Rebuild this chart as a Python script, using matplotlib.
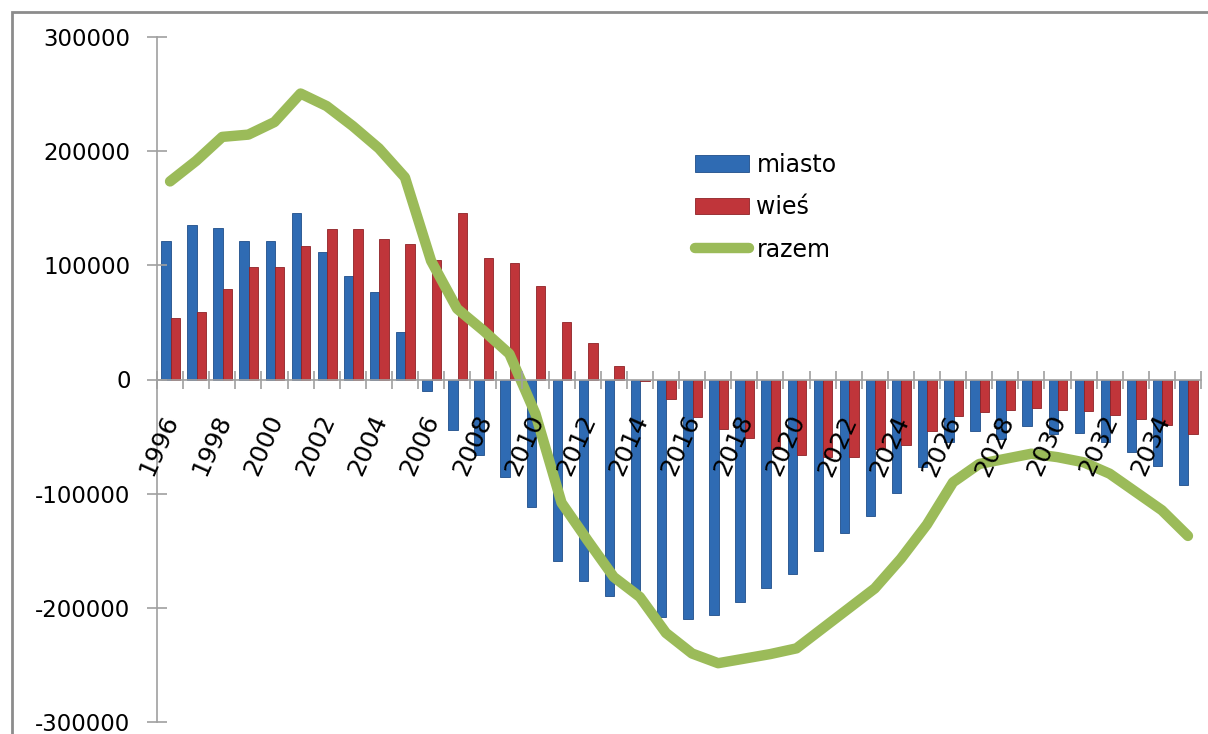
import matplotlib
matplotlib.use("Agg")
import matplotlib.pyplot as plt
import matplotlib.transforms as mtransforms
from matplotlib.patches import Rectangle
import numpy as np

# dane
lata = list(range(1996, 2036))
miasto = [121000, 135000, 133000, 121000, 121000, 145500, 112000, 90500, 77000, 42000,
          -10000, -44500, -66500, -85000, -111500, -159000, -176500, -190000, -187500, -208000,
          -209500, -206000, -195000, -182500, -170000, -150000, -134500, -119500, -99500, -76500,
          -55000, -45500, -52000, -41000, -48000, -47000, -55000, -63500, -76000, -92500]
wies = [53500, 59000, 79500, 98500, 98500, 116500, 132000, 132000, 123000, 118500,
        105000, 145500, 106000, 102000, 81500, 50000, 32000, 12000, -1500, -17000,
        -32500, -43500, -51000, -60500, -66000, -67500, -67500, -61000, -57000, -45000,
        -32000, -28500, -27000, -25000, -26500, -27500, -31000, -34500, -40000, -48000]
razem = [173500, 191500, 212500, 214500, 225500, 250500, 239500, 222000, 202500, 177000,
         104000, 62000, 43000, 22500, -30000, -108000, -141000, -173000, -190500, -222000,
         -240000, -248500, -244500, -240500, -235500, -218000, -200500, -183000, -157000, -127000,
         -90000, -74000, -69500, -65000, -68000, -72500, -82500, -98500, -114500, -137000]
etykiety = [str(r) for r in lata[::2]]

fig = plt.figure(figsize=(12.08, 7.34), dpi=100)
ax = fig.add_axes([157 / 1208, 12 / 734, 1044 / 1208, 685 / 734])

x = np.arange(len(lata))
w = 0.36
b1 = ax.bar(x - w / 2 + 0.02, miasto, w, color="#2F6BB3", edgecolor="#1F4E8A", linewidth=0.6,
            label="miasto", zorder=1)
b2 = ax.bar(x + w / 2 + 0.02, wies, w, color="#C0353A", edgecolor="#8E2226", linewidth=0.6,
            label="wieś", zorder=1)
l1, = ax.plot(x, razem, color="#9BBB59", linewidth=7.5, solid_capstyle="round",
              solid_joinstyle="round", label="razem", zorder=1.5)

ax.set_xlim(-0.5, len(lata) - 0.5)
ax.set_ylim(-300000, 300000)
ax.set_yticks(np.arange(-300000, 300001, 100000))
ax.set_yticklabels([str(v) for v in range(-300000, 300001, 100000)])

ax.spines["top"].set_visible(False)
ax.spines["right"].set_visible(False)
ax.spines["bottom"].set_position(("data", 0))
for s in ("left", "bottom"):
    ax.spines[s].set_color("#A0A0A0")
    ax.spines[s].set_linewidth(1.2)

ax.tick_params(axis="y", direction="inout", length=14, width=1.2, color="#A0A0A0",
               pad=12, labelsize=16.5)
ax.set_xticks(x[::2])
ax.set_xticklabels(etykiety, rotation=66, ha="right", va="top")
ax.set_xticks(np.arange(-0.5, len(lata), 1), minor=True)
ax.tick_params(axis="x", which="major", length=0, pad=23, labelsize=18)
ax.tick_params(axis="x", which="minor", direction="inout", length=13, width=1.2,
               color="#A0A0A0")
ax.xaxis.set_zorder(3)
off = mtransforms.ScaledTranslation(13 / 100, 0, fig.dpi_scale_trans)
for lab in ax.get_xticklabels():
    lab.set_transform(lab.get_transform() + off)

ax.legend(handles=[b1, b2, l1], loc="upper left", bbox_to_anchor=(0.495, 0.862),
          frameon=False, fontsize=17, handlelength=2.3, handleheight=0.7,
          labelspacing=0.78, handletextpad=0.3)

fig.patches.append(Rectangle((12 / 1208, -0.2), 1.2, 1.2 - 12 / 734, transform=fig.transFigure,
                             fill=False, edgecolor="#8C8C8C", linewidth=2))

fig.savefig("out.png", dpi=100)
